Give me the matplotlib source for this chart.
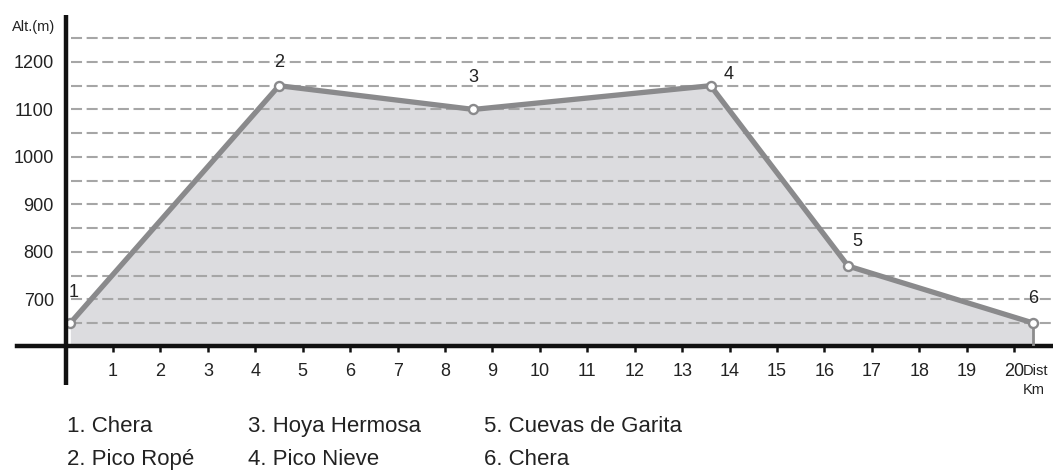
import matplotlib
matplotlib.use("Agg")
import matplotlib.pyplot as plt

# route profile: distance (km) and altitude (m)
dist = [0.1, 4.5, 8.6, 13.6, 16.5, 20.4]
alt = [650, 1150, 1100, 1150, 770, 650]
point_ids = ["1", "2", "3", "4", "5", "6"]
place_names = ["1. Chera", "2. Pico Ropé", "3. Hoya Hermosa",
               "4. Pico Nieve", "5. Cuevas de Garita", "6. Chera"]
yticks = [700, 800, 900, 1000, 1100, 1200]
xticks = list(range(1, 21))
grid_levels = list(range(650, 1300, 50))

fam = ["Liberation Sans Narrow", "Liberation Sans", "DejaVu Sans"]
plt.rcParams["font.family"] = fam
ink = "#222222"

W, H = 1053, 472
fig = plt.figure(figsize=(W / 100, H / 100), dpi=100)
ax = fig.add_axes([17 / W, 1 - 346 / H, (W - 17) / W, (346 - 15) / H])

ax.set_xlim(-1.025, 20.82)
ax.set_ylim(601.5, 1299)

# shaded area under profile
ax.fill_between(dist, alt, 601.5, color="#dcdcdf", lw=0, zorder=1)
ax.plot([dist[-1], dist[-1]], [601.5, alt[-1]], color="#8c8c8c", lw=2, zorder=3)

# dashed guide lines
ax.hlines(grid_levels, 0.12, 20.82, colors="#a6a6a6", linestyles=(0, (5.3, 2.2)),
          lw=1.5, zorder=2)

ax.plot(dist, alt, color="#8a8a8c", lw=3.8, zorder=4, solid_joinstyle="miter")
ax.plot(dist, alt, "o", ms=6.5, mfc="white", mec="#8a8a8c", mew=1.7, zorder=5)

# label offsets in points (layout only)
offsets = [(2.2, 22.3), (0, 16.6), (0, 23), (13, 7.9), (6.5, 18), (0, 17.3)]
for x, y, t, off in zip(dist, alt, point_ids, offsets):
    ax.annotate(t, (x, y), xytext=off, textcoords="offset points",
                ha="center", va="center", fontsize=13, color=ink)

# axes lines
for s in ["top", "right", "left"]:
    ax.spines[s].set_visible(False)
ax.spines["bottom"].set_linewidth(3.2)
ax.spines["bottom"].set_color("#111111")
ax.plot([0, 0], [519, 1299], color="#111111", lw=3.2, clip_on=False,
        solid_capstyle="butt", zorder=6)

ax.set_xticks(xticks)
ax.set_xticklabels([str(v) for v in xticks], fontsize=13, color=ink)
ax.tick_params(axis="x", direction="out", length=4, width=1.8,
               color="#111111", pad=8)
ax.set_yticks(yticks)
ax.set_yticklabels([str(v) for v in yticks], fontsize=13, color=ink)
ax.tick_params(axis="y", length=0, pad=0)
for lab in ax.get_yticklabels():
    lab.set_x((54 - 17) / (W - 17))
    lab.set_transform(ax.get_yaxis_transform())
    lab.set_ha("right")

fig.text(34 / W, 1 - 27 / H, "Alt.(m)", fontsize=10.5, ha="center",
         va="center", color=ink)
fig.text(1023 / W, 1 - 371 / H, "Dist", fontsize=10.5, ha="left",
         va="center", color=ink)
fig.text(1034 / W, 1 - 390 / H, "Km", fontsize=10.5, ha="center",
         va="center", color=ink)

col_x = [67, 248, 484]
row_y = [432, 465]
for i, name in enumerate(place_names):
    fig.text(col_x[i // 2] / W, 1 - row_y[i % 2] / H, name, fontsize=16,
             ha="left", va="baseline", color=ink)

fig.savefig("out.png", dpi=100)
